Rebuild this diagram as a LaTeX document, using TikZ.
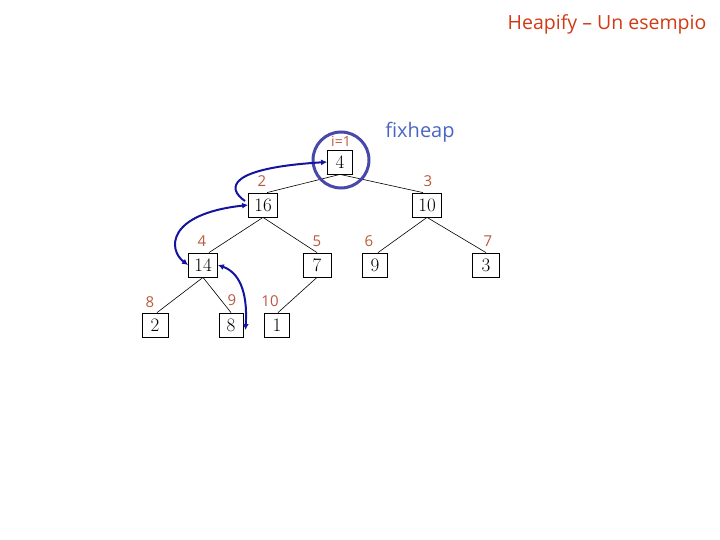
\documentclass[tikz,border=0pt]{standalone}
\usepackage{fontspec}
\newfontfamily\lblfont{Open Sans}
\usetikzlibrary{arrows.meta}
\definecolor{lblc}{HTML}{B85A3C}
\definecolor{titlec}{HTML}{D03A14}
\definecolor{fixc}{HTML}{4A66C4}
\definecolor{circc}{HTML}{4848A8}
\definecolor{arrc}{HTML}{1414A0}
\tikzset{
  hbox/.style={draw=black, line width=0.8pt, minimum width=26pt, minimum height=24pt, inner sep=1pt, font=\fontsize{19}{19}\selectfont},
  idx/.style={text=lblc, font=\lblfont\fontsize{15}{15}\selectfont, inner sep=0pt},
  edge/.style={draw=black, line width=0.6pt},
  swap/.style={draw=arrc, line width=2pt, -{Latex[length=6pt,width=6pt]}},
  swapb/.style={draw=arrc, line width=2pt, {Latex[length=6pt,width=6pt]}-{Latex[length=6pt,width=6pt]}},
}
\begin{document}
\begin{tikzpicture}[x=1pt,y=-1pt]
\useasboundingbox (0,0) rectangle (720,540);
\node[text=titlec, font=\lblfont\fontsize{19.5}{19.5}\selectfont, anchor=center] (title) at (607,24) {Heapify – Un esempio};
\node[text=fixc, font=\lblfont\fontsize{20}{20}\selectfont] (fix) at (420,132) {fixheap};

\node[hbox, minimum width=25pt] (n1) at (340,162) {4};
\node[hbox, minimum width=29pt] (n2) at (263,205) {16};
\node[hbox, minimum width=29pt] (n3) at (427,205) {10};
\node[hbox, minimum width=29pt] (n4) at (203,265) {14};
\node[hbox, minimum width=28pt] (n5) at (317,265) {7};
\node[hbox, minimum width=25pt] (n6) at (375,265) {9};
\node[hbox, minimum width=27pt] (n7) at (486,265) {3};
\node[hbox, minimum width=26pt] (n8) at (155,325) {2};
\node[hbox, minimum width=24pt] (n9) at (231,325) {8};
\node[hbox, minimum width=25pt] (n10) at (277,325) {1};

\node[idx, font=\lblfont\fontsize{14}{14}\selectfont] (l1) at (341,141) {i=1};
\node[idx] (l2) at (262,181) {2};
\node[idx] (l3) at (428,181) {3};
\node[idx] (l4) at (202,241) {4};
\node[idx] (l5) at (317,241) {5};
\node[idx] (l6) at (369,241) {6};
\node[idx] (l7) at (488,241) {7};
\node[idx] (l8) at (150,302) {8};
\node[idx] (l9) at (232,300) {9};
\node[idx] (l10) at (270,301) {10};

\draw[edge] (n1.south) -- ([xshift=4pt]n2.north);
\draw[edge] (n1.south) -- ([xshift=-4pt]n3.north);
\draw[edge] (n2.south) -- ([xshift=6pt]n4.north);
\draw[edge] (n2.south) -- (n5.north);
\draw[edge] (n3.south) -- ([xshift=3pt]n6.north);
\draw[edge] (n3.south) -- (n7.north);
\draw[edge] (n4.south) -- ([xshift=2pt]n8.north);
\draw[edge] (n4.south) -- (n9.north);
\draw[edge] (n5.south) -- ([xshift=1pt]n10.north);

\node[draw=circc, line width=3pt, circle, minimum size=56pt, inner sep=0pt] (circ) at (341,160) {};

\coordinate (a1s) at (245,201);
\draw[swap] (a1s) .. controls (226,188) and (228,168) .. (n1.west);
\draw[swapb] (n4.west) .. controls (168,250) and (166,214) .. (n2.west);
\draw[swapb] (n4.east) .. controls (238,272) and (248,290) .. ([xshift=2pt,yshift=-5pt]n9.east);
\end{tikzpicture}
\end{document}
